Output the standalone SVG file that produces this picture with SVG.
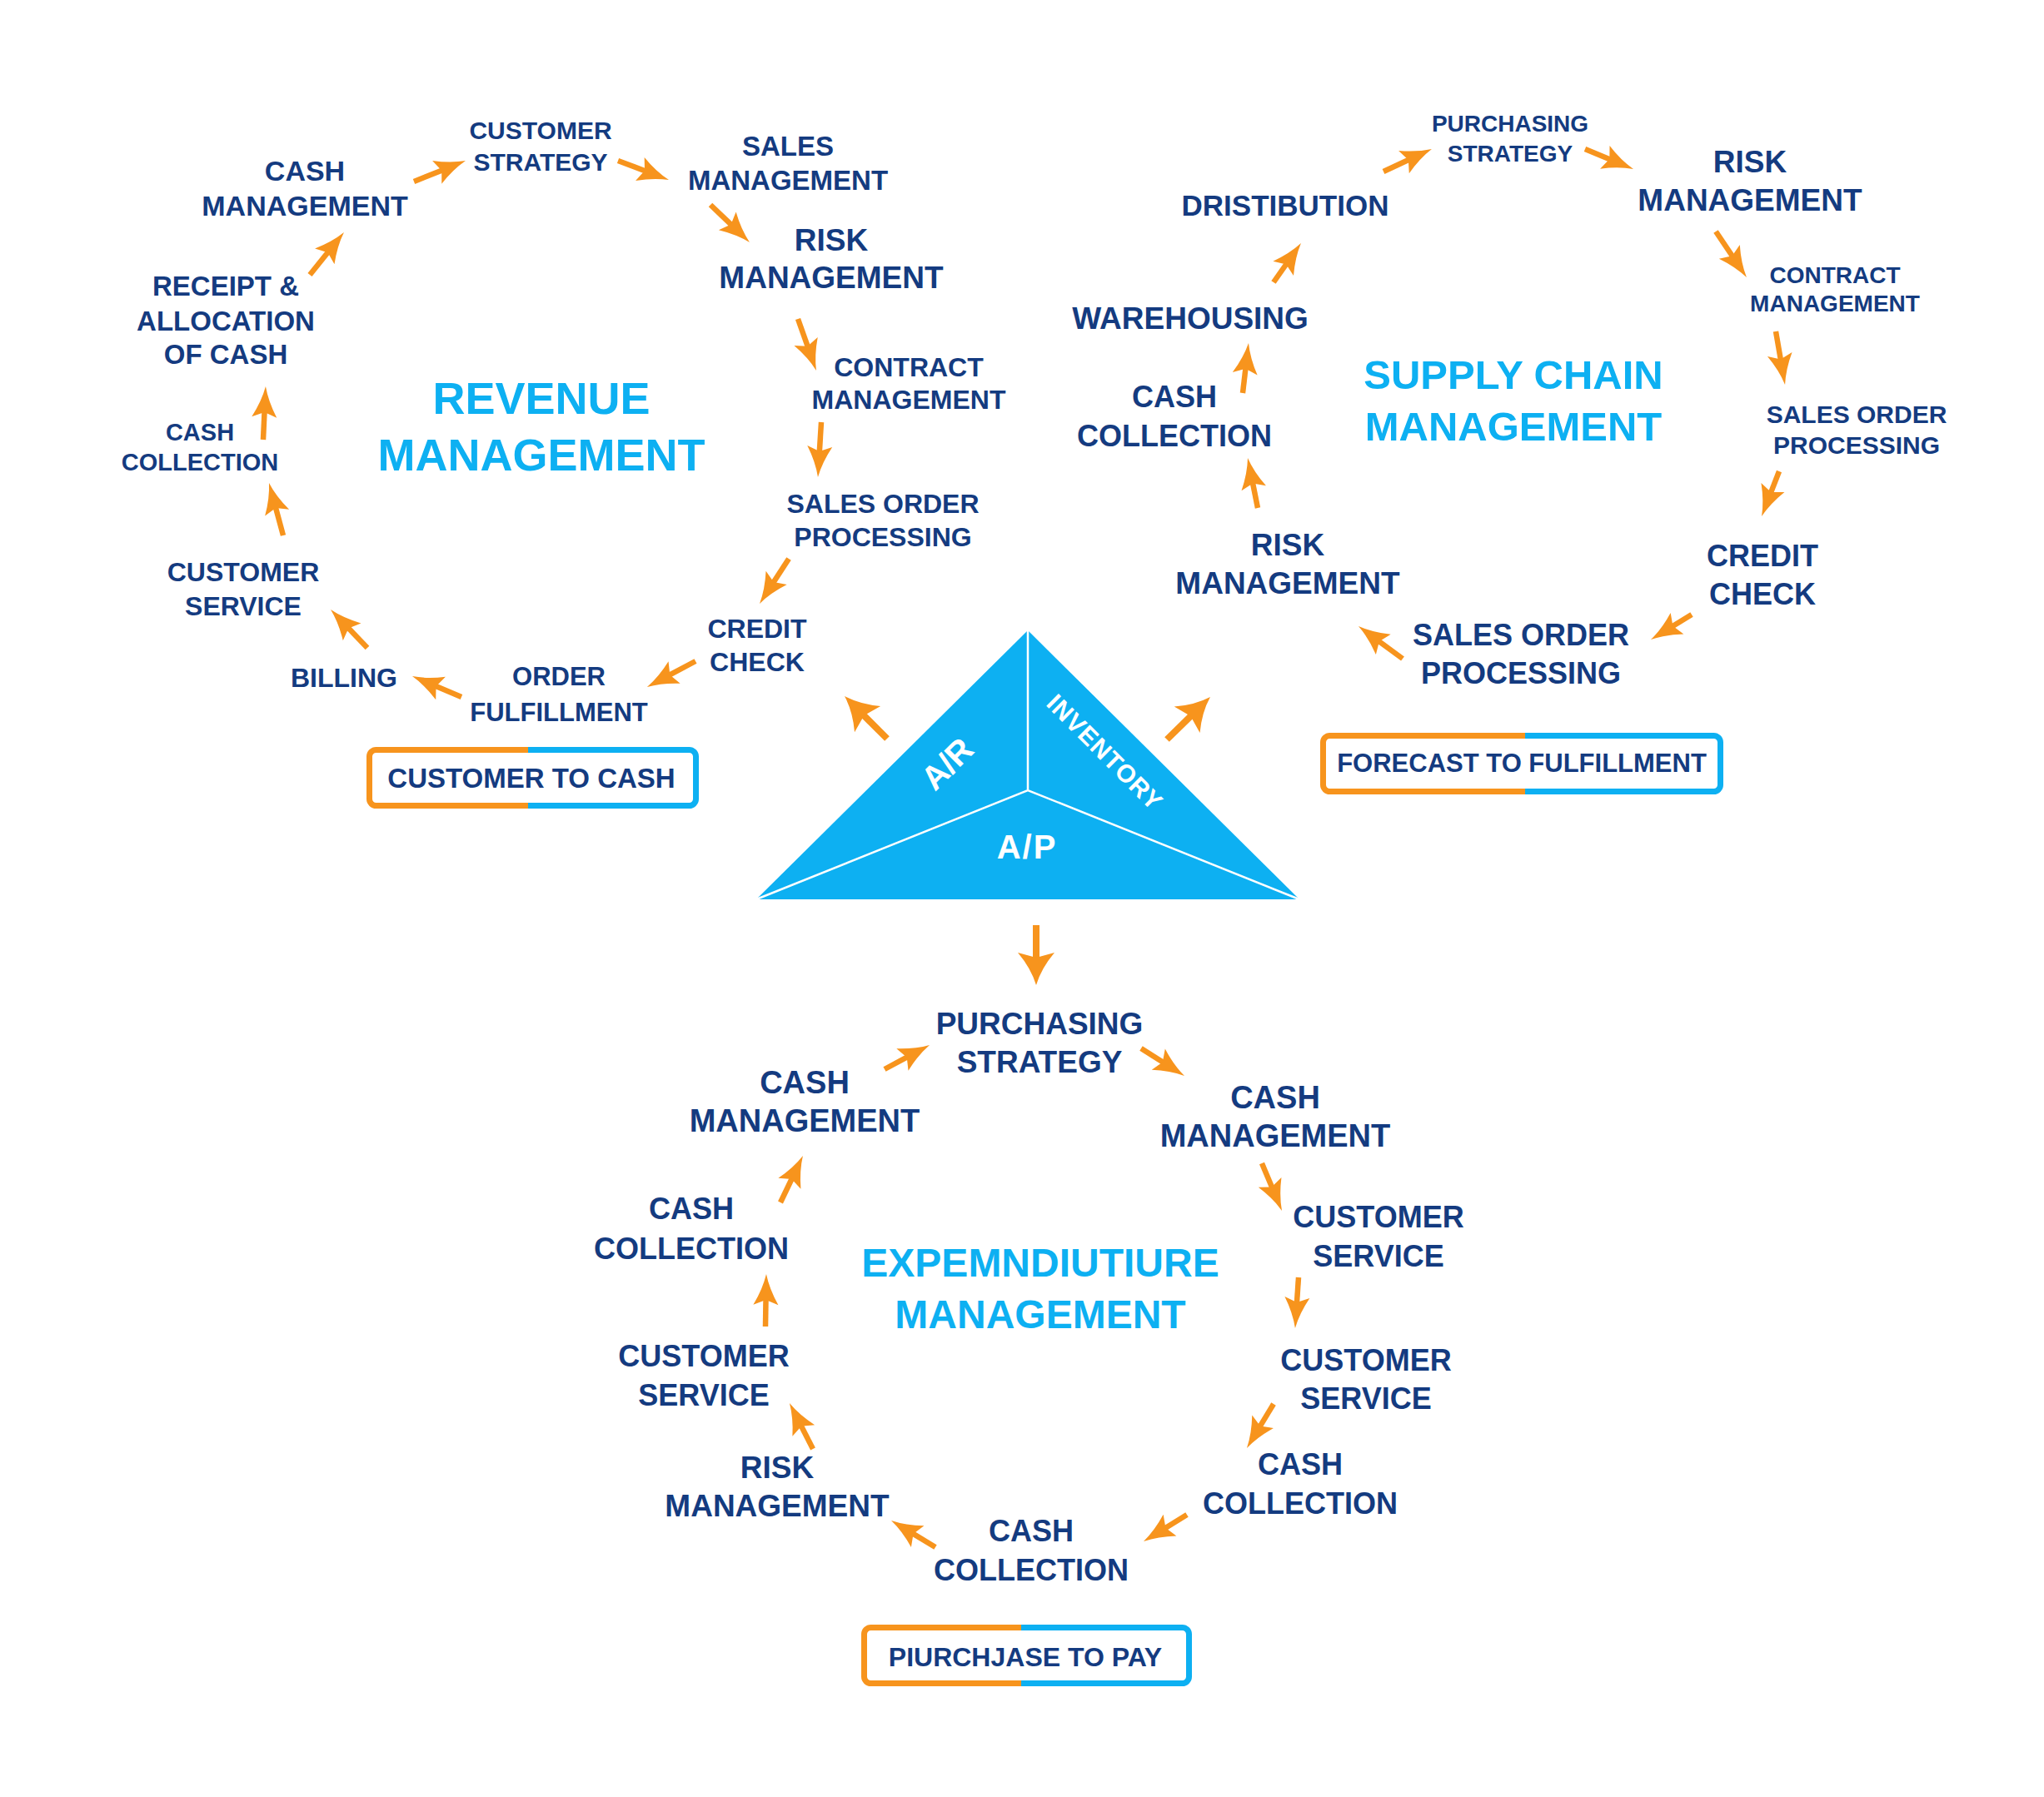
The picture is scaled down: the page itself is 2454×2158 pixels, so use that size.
<svg xmlns="http://www.w3.org/2000/svg" width="2454" height="2158" viewBox="0 0 2454 2158">
<style>
.n{font-family:"Liberation Sans",Arial,sans-serif;font-weight:bold;fill:#143B80;text-anchor:middle}
.t{font-family:"Liberation Sans",Arial,sans-serif;font-weight:bold;fill:#0DB0F2;text-anchor:middle}
.w{font-family:"Liberation Sans",Arial,sans-serif;font-weight:bold;fill:#FFFFFF;text-anchor:middle}
.a{stroke:#F7941D;stroke-width:6.5;fill:none;marker-end:url(#hs)}
.b{stroke:#F7941D;stroke-width:8;fill:none;marker-end:url(#hb)}
.bo{stroke:#F7941D;stroke-width:7;fill:none}
.bb{stroke:#0DB0F2;stroke-width:7;fill:none}
</style>
<defs>
<marker id="hs" markerUnits="userSpaceOnUse" viewBox="-40 -18 42 36" markerWidth="42" markerHeight="36" refX="-25" refY="0" orient="auto" overflow="visible">
<path d="M0,0 Q-18,-4 -37,-15 L-31,0 L-37,15 Q-18,4 0,0 Z" fill="#F7941D"/>
</marker>
<marker id="hb" markerUnits="userSpaceOnUse" viewBox="-42 -24 44 48" markerWidth="44" markerHeight="48" refX="-28" refY="0" orient="auto" overflow="visible">
<path d="M0,0 Q-20,-6 -39,-22 L-33,0 L-39,22 Q-20,6 0,0 Z" fill="#F7941D"/>
</marker>
</defs>
<rect width="2454" height="2158" fill="#FFFFFF"/>

<g id="center-triangle">
<polygon points="1234,757 908,1080 1560,1080" fill="#0DB0F2"/>
<path d="M1234,757 L1234,949 M908,1080 L1234,949 L1560,1080" stroke="#FFFFFF" stroke-width="2.5" fill="none"/>
<text class="w" font-size="40" transform="translate(1137,917) rotate(-45)" y="14">A/R</text>
<text class="w" font-size="30" transform="translate(1327,903) rotate(45)" y="11" letter-spacing="1">INVENTORY</text>
<text class="w" font-size="40" x="1233" y="1031" letter-spacing="2">A/P</text>
</g>

<!-- Revenue management -->
<g id="revenue-title"><text class="t" font-size="54" x="650" y="497">REVENUE</text><text class="t" font-size="54" x="650" y="565">MANAGEMENT</text></g>
<g id="rev-cash-management"><text class="n" font-size="34" x="366" y="217">CASH</text><text class="n" font-size="34" x="366" y="259">MANAGEMENT</text></g>
<g id="rev-customer-strategy"><text class="n" font-size="30" x="649" y="167">CUSTOMER</text><text class="n" font-size="30" x="649" y="205">STRATEGY</text></g>
<g id="rev-sales-management"><text class="n" font-size="33" x="946" y="187">SALES</text><text class="n" font-size="33" x="946" y="228">MANAGEMENT</text></g>
<g id="rev-risk-management"><text class="n" font-size="37" x="998" y="301">RISK</text><text class="n" font-size="37" x="998" y="346">MANAGEMENT</text></g>
<g id="rev-contract-management"><text class="n" font-size="32" x="1091" y="452">CONTRACT</text><text class="n" font-size="32" x="1091" y="491">MANAGEMENT</text></g>
<g id="rev-sales-order"><text class="n" font-size="32" x="1060" y="616">SALES ORDER</text><text class="n" font-size="32" x="1060" y="656">PROCESSING</text></g>
<g id="rev-credit-check"><text class="n" font-size="32" x="909" y="766">CREDIT</text><text class="n" font-size="32" x="909" y="806">CHECK</text></g>
<g id="rev-order-fulfillment"><text class="n" font-size="31" x="671" y="823">ORDER</text><text class="n" font-size="31" x="671" y="866">FULFILLMENT</text></g>
<g id="rev-billing"><text class="n" font-size="32" x="413" y="825">BILLING</text></g>
<g id="rev-customer-service"><text class="n" font-size="32" x="292" y="698">CUSTOMER</text><text class="n" font-size="32" x="292" y="739">SERVICE</text></g>
<g id="rev-cash-collection"><text class="n" font-size="29" x="240" y="529">CASH</text><text class="n" font-size="29" x="240" y="565">COLLECTION</text></g>
<g id="rev-receipt"><text class="n" font-size="33" x="271" y="355">RECEIPT &amp;</text><text class="n" font-size="33" x="271" y="397">ALLOCATION</text><text class="n" font-size="33" x="271" y="437">OF CASH</text></g>
<g id="box-customer-to-cash">
<path class="bo" d="M634,900.5 H451.5 A8,8 0 0 0 443.5,908.5 V959.5 A8,8 0 0 0 451.5,967.5 H634"/>
<path class="bb" d="M634,900.5 H827.5 A8,8 0 0 1 835.5,908.5 V959.5 A8,8 0 0 1 827.5,967.5 H634"/>
<text class="n" font-size="33" x="638" y="946">CUSTOMER TO CASH</text>
</g>

<!-- Supply chain management -->
<g id="supply-title"><text class="t" font-size="49" x="1817" y="467">SUPPLY CHAIN</text><text class="t" font-size="49" x="1817" y="529">MANAGEMENT</text></g>
<g id="sc-purchasing-strategy"><text class="n" font-size="28" x="1813" y="158">PURCHASING</text><text class="n" font-size="28" x="1813" y="194">STRATEGY</text></g>
<g id="sc-risk-management-1"><text class="n" font-size="37" x="2101" y="207">RISK</text><text class="n" font-size="37" x="2101" y="253">MANAGEMENT</text></g>
<g id="sc-contract-management"><text class="n" font-size="28" x="2203" y="340">CONTRACT</text><text class="n" font-size="28" x="2203" y="374">MANAGEMENT</text></g>
<g id="sc-sales-order-1"><text class="n" font-size="30" x="2229" y="508">SALES ORDER</text><text class="n" font-size="30" x="2229" y="545">PROCESSING</text></g>
<g id="sc-credit-check"><text class="n" font-size="36" x="2116" y="680">CREDIT</text><text class="n" font-size="36" x="2116" y="726">CHECK</text></g>
<g id="sc-sales-order-2"><text class="n" font-size="36" x="1826" y="775">SALES ORDER</text><text class="n" font-size="36" x="1826" y="821">PROCESSING</text></g>
<g id="sc-risk-management-2"><text class="n" font-size="37" x="1546" y="667">RISK</text><text class="n" font-size="37" x="1546" y="713">MANAGEMENT</text></g>
<g id="sc-cash-collection"><text class="n" font-size="36" x="1410" y="489">CASH</text><text class="n" font-size="36" x="1410" y="536">COLLECTION</text></g>
<g id="sc-warehousing"><text class="n" font-size="37" x="1429" y="395">WAREHOUSING</text></g>
<g id="sc-distribution"><text class="n" font-size="35" x="1543" y="259">DRISTIBUTION</text></g>
<g id="box-forecast-to-fulfillment">
<path class="bo" d="M1831,883.5 H1596.5 A8,8 0 0 0 1588.5,891.5 V942.5 A8,8 0 0 0 1596.5,950.5 H1831"/>
<path class="bb" d="M1831,883.5 H2057.5 A8,8 0 0 1 2065.5,891.5 V942.5 A8,8 0 0 1 2057.5,950.5 H1831"/>
<text class="n" font-size="31" x="1827" y="927">FORECAST TO FULFILLMENT</text>
</g>

<!-- Expenditure management -->
<g id="expenditure-title"><text class="t" font-size="48" x="1249" y="1533">EXPEMNDIUTIURE</text><text class="t" font-size="48" x="1249" y="1595">MANAGEMENT</text></g>
<g id="ex-purchasing-strategy"><text class="n" font-size="37" x="1248" y="1242">PURCHASING</text><text class="n" font-size="37" x="1248" y="1288">STRATEGY</text></g>
<g id="ex-cash-management-2"><text class="n" font-size="38" x="1531" y="1331">CASH</text><text class="n" font-size="38" x="1531" y="1377">MANAGEMENT</text></g>
<g id="ex-customer-service-1"><text class="n" font-size="36" x="1655" y="1474">CUSTOMER</text><text class="n" font-size="36" x="1655" y="1521">SERVICE</text></g>
<g id="ex-customer-service-2"><text class="n" font-size="36" x="1640" y="1646">CUSTOMER</text><text class="n" font-size="36" x="1640" y="1692">SERVICE</text></g>
<g id="ex-cash-collection-1"><text class="n" font-size="36" x="1561" y="1771">CASH</text><text class="n" font-size="36" x="1561" y="1818">COLLECTION</text></g>
<g id="ex-cash-collection-2"><text class="n" font-size="36" x="1238" y="1851">CASH</text><text class="n" font-size="36" x="1238" y="1898">COLLECTION</text></g>
<g id="ex-risk-management"><text class="n" font-size="37" x="933" y="1775">RISK</text><text class="n" font-size="37" x="933" y="1821">MANAGEMENT</text></g>
<g id="ex-customer-service-3"><text class="n" font-size="36" x="845" y="1641">CUSTOMER</text><text class="n" font-size="36" x="845" y="1688">SERVICE</text></g>
<g id="ex-cash-collection-3"><text class="n" font-size="36" x="830" y="1464">CASH</text><text class="n" font-size="36" x="830" y="1512">COLLECTION</text></g>
<g id="ex-cash-management-1"><text class="n" font-size="38" x="966" y="1313">CASH</text><text class="n" font-size="38" x="966" y="1359">MANAGEMENT</text></g>
<g id="box-purchase-to-pay">
<path class="bo" d="M1226,1954.5 H1045.5 A8,8 0 0 0 1037.5,1962.5 V2013.5 A8,8 0 0 0 1045.5,2021.5 H1226"/>
<path class="bb" d="M1226,1954.5 H1419.5 A8,8 0 0 1 1427.5,1962.5 V2013.5 A8,8 0 0 1 1419.5,2021.5 H1226"/>
<text class="n" font-size="32" x="1231" y="2001">PIURCHJASE TO PAY</text>
</g>

<g id="connectors">
<path class="a" d="M497,218 L535.8,202.4"/>
<path class="a" d="M742,193 L779.6,207.2"/>
<path class="a" d="M853,246 L881.9,273.7"/>
<path class="a" d="M958,383 L971.6,421.4"/>
<path class="a" d="M986,507 L983.5,548"/>
<path class="a" d="M947,671 L925.6,704"/>
<path class="a" d="M835,794 L799,813.2"/>
<path class="a" d="M554,837 L518,821.8"/>
<path class="a" d="M441,778 L414.3,750.1"/>
<path class="a" d="M340,643 L329.5,604.1"/>
<path class="a" d="M316,528 L317.8,489"/>
<path class="a" d="M372,330 L397.3,298.5"/>

<path class="b" d="M1065,887 L1033.8,855.8"/>
<path class="b" d="M1401,888 L1433,856.6"/>
<path class="b" d="M1244,1111 L1244,1155"/>

<path class="a" d="M1661,206 L1696.3,189.5"/>
<path class="a" d="M1903,179 L1937.9,193.4"/>
<path class="a" d="M2060,278 L2083,312.3"/>
<path class="a" d="M2132,398 L2138.8,437.3"/>
<path class="a" d="M2136,566 L2124.1,596.7"/>
<path class="a" d="M2031,738 L2003.3,755"/>
<path class="a" d="M1684,791 L1651.1,766.8"/>
<path class="a" d="M1510,610 L1502.9,574.5"/>
<path class="a" d="M1492,472 L1496.1,436.8"/>
<path class="a" d="M1529,339 L1547.6,312.5"/>

<path class="a" d="M1062,1284 L1094,1266.8"/>
<path class="a" d="M1370,1259 L1400.9,1278.6"/>
<path class="a" d="M1515,1397 L1529.3,1430.9"/>
<path class="a" d="M1559,1534 L1556.6,1570"/>
<path class="a" d="M1529,1686 L1509.9,1717.6"/>
<path class="a" d="M1425,1819 L1394.3,1837.9"/>
<path class="a" d="M1123,1858 L1091.4,1838.9"/>
<path class="a" d="M976,1740 L959.3,1707.3"/>
<path class="a" d="M919,1593 L919.6,1555"/>
<path class="a" d="M937,1444 L953.1,1410.5"/>
</g>
</svg>
